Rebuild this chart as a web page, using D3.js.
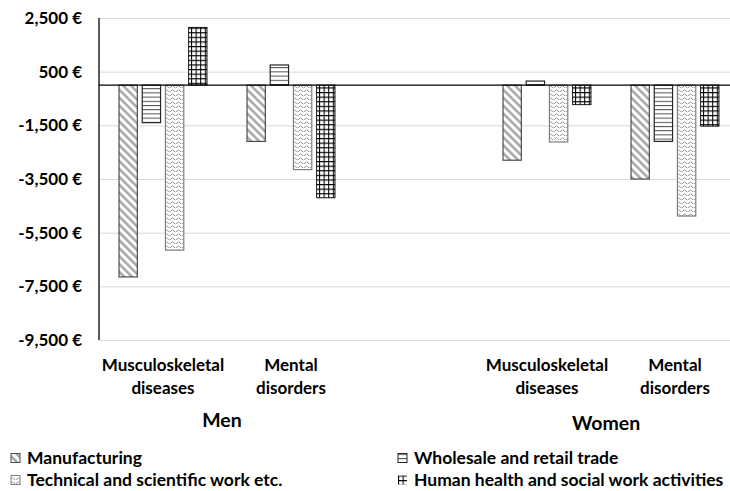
<!DOCTYPE html>
<html>
<head>
<meta charset="utf-8">
<script src="https://cdn.jsdelivr.net/npm/d3@7"></script>
<style>
  html, body { margin: 0; padding: 0; background: #fff; }
  svg { display: block; font-family: "Lato", sans-serif; font-weight: bold; }
</style>
</head>
<body>
<svg id="canvas" width="730" height="491"></svg>
<script>
/********** Data **********/
var groups = ["Men", "Women"];
var categories = ["Musculoskeletal diseases", "Mental disorders"];
var series = [
    "Manufacturing",
    "Wholesale and retail trade",
    "Technical and scientific work etc.",
    "Human health and social work activities"
];
// order: Men musculoskeletal, Men mental, Women musculoskeletal, Women mental
var manufacturing = [-7150, -2100, -2800, -3500];
var wholesale     = [-1400,   750,   150, -2100];
var technical     = [-6150, -3150, -2120, -4880];
var humanHealth   = [ 2150, -4200,  -730, -1530];
var yTicks = [2500, 500, -1500, -3500, -5500, -7500, -9500];

var seriesValues = [manufacturing, wholesale, technical, humanHealth];

/********** Setup **********/
var svg = d3.select("#canvas");
var width = +svg.attr("width");
var plotLeft = 99, plotTop = 18, plotBottom = 340;

// slots: two categories per group with an empty slot between the groups
var slots = [];
groups.forEach(function(g, gi) {
    if (gi > 0) slots.push("gap" + gi);
    categories.forEach(function(c) { slots.push(g + "|" + c); });
});

var x0 = d3.scaleBand().domain(slots).range([plotLeft, plotLeft + 128 * slots.length]);
var x1 = d3.scaleBand().domain(series).range([20, 108]).paddingInner(0.21);
var y = d3.scaleLinear().domain([-9500, 2500]).range([plotBottom, plotTop]);

var locale = d3.formatLocale({decimal: ".", thousands: ",", grouping: [3], currency: ["", ""], minus: "-"});
var fmt = locale.format(",");

/********** Patterns **********/
var defs = svg.append("defs");

var p0 = defs.append("pattern").attr("id", "pat0")
    .attr("patternUnits", "userSpaceOnUse").attr("width", 5.6).attr("height", 5.6)
    .attr("patternTransform", "rotate(-45)");
p0.append("rect").attr("width", 5.6).attr("height", 5.6).attr("fill", "#fff");
p0.append("rect").attr("width", 2.5).attr("height", 5.6).attr("fill", "#a6a6a6");

var p1 = defs.append("pattern").attr("id", "pat1")
    .attr("patternUnits", "userSpaceOnUse").attr("width", 8).attr("height", 4.2);
p1.append("rect").attr("width", 8).attr("height", 4.2).attr("fill", "#fff");
p1.append("line").attr("x1", 0).attr("x2", 8).attr("y1", 0.5).attr("y2", 0.5)
    .attr("stroke", "#4d4d4d").attr("stroke-width", 1);

var p2 = defs.append("pattern").attr("id", "pat2")
    .attr("patternUnits", "userSpaceOnUse").attr("width", 6).attr("height", 4);
p2.append("rect").attr("width", 6).attr("height", 4).attr("fill", "#fff");
p2.append("path").attr("d", "M0 3 Q1.5 0.5 3 3 T6 3")
    .attr("fill", "none").attr("stroke", "#999").attr("stroke-width", 1);

var p3 = defs.append("pattern").attr("id", "pat3")
    .attr("patternUnits", "userSpaceOnUse").attr("width", 4.6).attr("height", 4.6);
p3.append("rect").attr("width", 4.6).attr("height", 4.6).attr("fill", "#fff");
p3.append("path").attr("d", "M0.5 0V4.6M0 0.5H4.6")
    .attr("fill", "none").attr("stroke", "#000").attr("stroke-width", 1.1);

var strokes = ["#4d4d4d", "#262626", "#7f7f7f", "#000"];

/********** Grid and y axis **********/
var yAxis = svg.append("g")
    .attr("transform", "translate(" + plotLeft + ",0)")
    .call(d3.axisLeft(y).tickValues(yTicks).tickSize(-(width - plotLeft)).tickPadding(17)
        .tickFormat(function(d) { return fmt(d) + " €"; }));
yAxis.select(".domain").remove();
yAxis.selectAll(".tick line").attr("stroke", "#d9d9d9").attr("stroke-width", 1);
yAxis.selectAll(".tick text")
    .attr("fill", "#000")
    .style("font-family", "Lato, sans-serif")
    .style("font-weight", "bold")
    .style("font-size", "17px");

/********** Bars **********/
var dataSlots = slots.filter(function(s) { return s.indexOf("|") > 0; });

var slotG = svg.append("g").selectAll("g")
    .data(dataSlots)
    .enter()
    .append("g")
    .attr("transform", function(d) { return "translate(" + x0(d) + ",0)"; });

slotG.selectAll("rect")
    .data(function(d, i) {
        return series.map(function(s, si) { return {series: s, si: si, value: seriesValues[si][i]}; });
    })
    .enter()
    .append("rect")
    .attr("x", function(d) { return x1(d.series); })
    .attr("width", x1.bandwidth())
    .attr("y", function(d) { return y(Math.max(0, d.value)); })
    .attr("height", function(d) { return Math.abs(y(d.value) - y(0)); })
    .attr("fill", function(d) { return "url(#pat" + d.si + ")"; })
    .attr("stroke", function(d) { return strokes[d.si]; })
    .attr("stroke-width", function(d) { return d.si == 3 ? 0.9 : 1.2; });

/********** Axis lines **********/
svg.append("line")
    .attr("x1", plotLeft).attr("x2", width)
    .attr("y1", y(0)).attr("y2", y(0))
    .attr("stroke", "#000").attr("stroke-width", 1.3);
svg.append("line")
    .attr("x1", plotLeft).attr("x2", plotLeft)
    .attr("y1", y(2500)).attr("y2", y(-9500))
    .attr("stroke", "#000").attr("stroke-width", 1.3);

/********** Category labels **********/
var catLabel = svg.append("g").selectAll("text")
    .data(dataSlots)
    .enter()
    .append("text")
    .attr("text-anchor", "middle")
    .style("font-size", "17px")
    .attr("fill", "#000");
catLabel.each(function(d) {
    var words = d.split("|")[1].split(" ");
    var t = d3.select(this);
    var cx = x0(d) + x0.bandwidth() / 2;
    words.forEach(function(w, i) {
        t.append("tspan").attr("x", cx).attr("y", 371 + i * 22.5).text(w);
    });
});

svg.append("g").selectAll("text")
    .data(groups)
    .enter()
    .append("text")
    .attr("text-anchor", "middle")
    .attr("x", function(g) { return (x0(g + "|" + categories[0]) + x0(g + "|" + categories[1]) + x0.bandwidth()) / 2 - 5; })
    .attr("y", function(g, i) { return 427 + i * 3; })
    .style("font-size", "19.5px")
    .attr("fill", "#000")
    .text(function(g) { return g; });

/********** Legend **********/
var legend = svg.append("g").selectAll("g")
    .data(series)
    .enter()
    .append("g")
    .attr("transform", function(d, i) {
        return "translate(" + (i % 2 ? 398 : 11) + "," + (i < 2 ? 458 : 480) + ")";
    });
legend.append("rect")
    .attr("x", 0).attr("y", -4.5).attr("width", 9).attr("height", 9)
    .attr("fill", function(d, i) { return "url(#pat" + i + ")"; })
    .attr("stroke", function(d, i) { return i == 3 ? "none" : strokes[i]; })
    .attr("stroke-width", 1);
legend.append("text")
    .attr("x", 16).attr("y", 0).attr("dy", "0.35em")
    .style("font-size", "17.5px")
    .attr("fill", "#000")
    .text(function(d) { return d; });
</script>
</body>
</html>
